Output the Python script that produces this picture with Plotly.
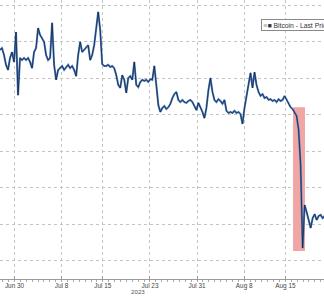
import pandas as pd
import plotly.graph_objects as go

# ---- data ----
series_start = "2023-06-27 12:55"
series_step = "490min"
btc_price = [
    30770, 30820, 30630, 30360, 30220, 30550, 30710, 30440, 31260, 29530,
    30550, 30490, 30550, 30490, 30550, 30440, 30270, 30710, 30820, 31370,
    31180, 31100, 30990, 30630, 30490, 30550, 31510, 30360, 29950, 30220,
    30270, 30330, 30220, 30300, 30360, 30270, 30330, 30220, 30050, 30630,
    30990, 30710, 30770, 30820, 30900, 30490, 30630, 30900, 31320, 31810,
    31320, 30380, 30330, 30330, 30360, 30300, 30330, 30270, 30080, 29810,
    29730, 30080, 29950, 29590, 30000, 30050, 29950, 30440, 29810, 29750,
    29890, 29950, 29920, 29950, 29890, 29970, 29950, 30330, 29810, 29260,
    29070, 29180, 29230, 29150, 29200, 29290, 29450, 29560, 29620, 29400,
    29340, 29400, 29340, 29320, 29370, 29400, 29340, 29230, 29120, 29320,
    29200, 29070, 28900, 29180, 29670, 30000, 29620, 29400, 29340, 29420,
    29370, 29290, 29400, 29100, 29040, 29070, 29040, 29100, 29040, 29070,
    29010, 28740, 29180, 29530, 29810, 30140, 29730, 30160, 29810, 29620,
    29510, 29560, 29450, 29480, 29400, 29420, 29370, 29400, 29340, 29420,
    29370, 29400, 29510, 29400, 29320, 29200, 29150, 29070, 28960, 28580,
    27620, 25340, 26520, 26330, 26060, 25890, 26160, 26270, 26110, 26220,
    26250, 26160, 26220,
]
btc_dates = pd.date_range(start=series_start, periods=len(btc_price), freq=series_step)

tick_dates = ["2023-06-30", "2023-07-08", "2023-07-15", "2023-07-23",
              "2023-07-31", "2023-08-08", "2023-08-15", "2023-08-23"]
tick_labels = ["Jun 30", "Jul 8", "Jul 15", "Jul 23", "Jul 31", "Aug 8", "Aug 15", "Aug 23"]
y_grid = [25000, 26000, 27000, 28000, 29000, 30000, 31000, 32000]
x_range = ["2023-06-27 12:55", "2023-08-21 13:10"]
y_range = [24493, 32137]

highlight_start = "2023-08-16 07:00"
highlight_end = "2023-08-18 07:40"
highlight_low = 25260
highlight_high = 29200

legend_text = "<span style='color:#999'>≡</span>■ Bitcoin - Last Price"
year_label = "2023"

fig = go.Figure()
fig.add_trace(go.Scatter(x=btc_dates, y=btc_price, mode="lines",
                         line=dict(color="#4a7cc0", width=2.0), hoverinfo="skip"))
fig.add_trace(go.Scatter(x=btc_dates, y=btc_price, mode="lines",
                         line=dict(color="#111a2c", width=0.7), hoverinfo="skip"))

fig.add_shape(type="rect", xref="x", yref="y",
              x0=highlight_start, x1=highlight_end,
              y0=highlight_low, y1=highlight_high,
              fillcolor="#f2a5a5", line=dict(width=0), layer="between")

fig.add_annotation(xref="paper", yref="paper", x=261/324, y=1 - 19/279,
                   xanchor="left", yanchor="top", text=legend_text, showarrow=False,
                   font=dict(family="Liberation Sans", size=6.8, color="#333"),
                   bordercolor="#8a8a8a", borderwidth=1, borderpad=1.5,
                   bgcolor="white", align="left")

fig.add_annotation(xref="paper", yref="paper", x=138/324, y=-(291-279)/279,
                   xanchor="center", yanchor="middle", text=year_label, showarrow=False,
                   font=dict(family="Liberation Sans", size=6.2, color="#555"))

fig.update_xaxes(range=x_range, tickvals=tick_dates, ticktext=tick_labels,
                 showgrid=True, gridcolor="#c4c4c4", griddash="dot", gridwidth=1,
                 showline=True, linecolor="#9a9a9a", linewidth=1,
                 ticks="inside", ticklen=3, tickcolor="#9a9a9a",
                 tickfont=dict(family="Liberation Sans", size=6.4, color="#444"),
                 minor=dict(dtick=86400000, ticks="outside", ticklen=2,
                            tickcolor="#aaaaaa", showgrid=False),
                 zeroline=False)
fig.update_yaxes(range=y_range, tickvals=y_grid, showticklabels=False,
                 showgrid=True, gridcolor="#c4c4c4", griddash="dot", gridwidth=1,
                 zeroline=False, showline=False, ticks="")

fig.update_layout(width=324, height=296, margin=dict(l=0, r=0, t=0, b=17),
                  paper_bgcolor="white", plot_bgcolor="white", showlegend=False)

fig.write_html("out.html")
